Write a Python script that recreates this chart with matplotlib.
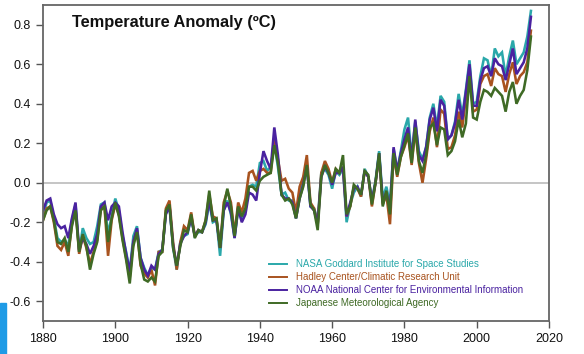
import matplotlib
matplotlib.use("Agg")
import matplotlib.pyplot as plt
from matplotlib.patches import Rectangle

plt.rcParams['font.family'] = ['Liberation Sans', 'DejaVu Sans']

years = list(range(1880, 2016))

nasa = [-0.17, -0.10, -0.09, -0.18, -0.28, -0.30, -0.29, -0.32, -0.19, -0.11,
        -0.35, -0.23, -0.28, -0.31, -0.30, -0.22, -0.11, -0.10, -0.26, -0.17,
        -0.08, -0.14, -0.27, -0.35, -0.45, -0.27, -0.22, -0.38, -0.43, -0.47,
        -0.43, -0.44, -0.35, -0.34, -0.15, -0.12, -0.33, -0.44, -0.30, -0.27,
        -0.26, -0.17, -0.27, -0.25, -0.25, -0.21, -0.10, -0.20, -0.19, -0.37,
        -0.14, -0.09, -0.16, -0.28, -0.13, -0.19, -0.14, -0.02, -0.01, -0.02,
        0.10, 0.11, 0.06, 0.08, 0.20, 0.08, -0.06, -0.05, -0.09, -0.09,
        -0.18, -0.06, 0.02, 0.09, -0.12, -0.13, -0.19, 0.05, 0.07, 0.04,
        -0.03, 0.06, 0.04, 0.07, -0.20, -0.11, -0.05, -0.02, -0.07, 0.07,
        0.03, -0.09, 0.01, 0.16, -0.08, -0.02, -0.11, 0.17, 0.06, 0.16,
        0.27, 0.33, 0.13, 0.31, 0.16, 0.12, 0.18, 0.33, 0.40, 0.28,
        0.44, 0.41, 0.22, 0.24, 0.31, 0.45, 0.34, 0.47, 0.62, 0.40,
        0.41, 0.54, 0.63, 0.62, 0.54, 0.68, 0.64, 0.66, 0.54, 0.64,
        0.72, 0.60, 0.63, 0.66, 0.74, 0.87]

hadley = [-0.19, -0.13, -0.12, -0.20, -0.32, -0.34, -0.30, -0.37, -0.21, -0.13,
          -0.36, -0.27, -0.33, -0.41, -0.35, -0.29, -0.13, -0.12, -0.37, -0.19,
          -0.11, -0.16, -0.28, -0.38, -0.48, -0.30, -0.24, -0.42, -0.46, -0.48,
          -0.44, -0.52, -0.35, -0.35, -0.13, -0.09, -0.30, -0.44, -0.30, -0.22,
          -0.24, -0.15, -0.27, -0.24, -0.25, -0.19, -0.06, -0.17, -0.18, -0.33,
          -0.10, -0.04, -0.10, -0.26, -0.10, -0.15, -0.08, 0.05, 0.06, 0.01,
          0.06, 0.07, 0.05, 0.05, 0.23, 0.12, 0.01, 0.02, -0.03, -0.05,
          -0.15, -0.02, 0.03, 0.14, -0.10, -0.13, -0.21, 0.05, 0.11, 0.07,
          0.00, 0.07, 0.05, 0.08, -0.17, -0.12, -0.02, -0.03, -0.07, 0.06,
          0.03, -0.12, 0.00, 0.13, -0.11, -0.06, -0.21, 0.14, 0.03, 0.13,
          0.18, 0.24, 0.09, 0.27, 0.10, 0.00, 0.12, 0.26, 0.33, 0.18,
          0.37, 0.35, 0.17, 0.18, 0.24, 0.36, 0.28, 0.43, 0.58, 0.36,
          0.37, 0.50, 0.54, 0.55, 0.49, 0.58, 0.55, 0.54, 0.46, 0.55,
          0.61, 0.50, 0.54, 0.56, 0.61, 0.77]

noaa = [-0.14, -0.09, -0.08, -0.16, -0.21, -0.23, -0.22, -0.28, -0.18, -0.10,
        -0.34, -0.28, -0.31, -0.36, -0.32, -0.26, -0.12, -0.10, -0.19, -0.12,
        -0.10, -0.12, -0.25, -0.36, -0.45, -0.30, -0.23, -0.38, -0.44, -0.47,
        -0.42, -0.44, -0.36, -0.34, -0.16, -0.12, -0.32, -0.42, -0.31, -0.27,
        -0.25, -0.18, -0.27, -0.24, -0.25, -0.20, -0.09, -0.19, -0.19, -0.33,
        -0.14, -0.10, -0.15, -0.28, -0.13, -0.20, -0.16, -0.05, -0.06, -0.09,
        0.05, 0.16, 0.11, 0.07, 0.28, 0.14, -0.06, -0.08, -0.08, -0.10,
        -0.18, -0.08, -0.01, 0.08, -0.12, -0.14, -0.21, 0.03, 0.08, 0.05,
        -0.01, 0.05, 0.05, 0.08, -0.17, -0.10, -0.03, -0.02, -0.06, 0.06,
        0.03, -0.09, 0.00, 0.15, -0.10, -0.05, -0.13, 0.18, 0.06, 0.15,
        0.22, 0.28, 0.12, 0.32, 0.14, 0.11, 0.18, 0.32, 0.38, 0.26,
        0.42, 0.39, 0.22, 0.24, 0.30, 0.42, 0.32, 0.46, 0.60, 0.39,
        0.39, 0.52, 0.58, 0.59, 0.54, 0.63, 0.60, 0.59, 0.52, 0.60,
        0.68, 0.55, 0.58, 0.61, 0.68, 0.84]

jma = [-0.19, -0.14, -0.12, -0.19, -0.30, -0.31, -0.28, -0.35, -0.22, -0.14,
       -0.35, -0.26, -0.32, -0.44, -0.36, -0.30, -0.14, -0.12, -0.30, -0.18,
       -0.10, -0.17, -0.29, -0.39, -0.51, -0.32, -0.25, -0.41, -0.49, -0.50,
       -0.48, -0.50, -0.37, -0.35, -0.14, -0.11, -0.33, -0.42, -0.32, -0.24,
       -0.25, -0.16, -0.28, -0.24, -0.25, -0.19, -0.04, -0.19, -0.18, -0.33,
       -0.12, -0.03, -0.12, -0.27, -0.12, -0.17, -0.13, -0.02, -0.02, -0.04,
       0.01, 0.03, 0.04, 0.05, 0.19, 0.10, -0.06, -0.09, -0.08, -0.11,
       -0.18, -0.08, -0.02, 0.09, -0.11, -0.14, -0.24, 0.03, 0.09, 0.05,
       0.00, 0.07, 0.05, 0.14, -0.16, -0.12, -0.01, -0.03, -0.06, 0.06,
       0.04, -0.11, 0.00, 0.15, -0.12, -0.04, -0.16, 0.15, 0.04, 0.13,
       0.19, 0.25, 0.10, 0.28, 0.11, 0.05, 0.14, 0.28, 0.30, 0.19,
       0.28, 0.27, 0.14, 0.16, 0.21, 0.32, 0.23, 0.30, 0.54, 0.33,
       0.32, 0.41, 0.47, 0.46, 0.44, 0.48, 0.46, 0.44, 0.36, 0.46,
       0.51, 0.40, 0.44, 0.47, 0.57, 0.74]

labels = ["NASA Goddard Institute for Space Studies",
          "Hadley Center/Climatic Research Unit",
          "NOAA National Center for Environmental Information",
          "Japanese Meteorological Agency"]
colors = ["#2aa8aa", "#a8531f", "#4a22a0", "#3f6a25"]
series = [nasa, hadley, noaa, jma]

xticks = [1880, 1900, 1920, 1940, 1960, 1980, 2000, 2020]
yticks = [-0.6, -0.4, -0.2, 0.0, 0.2, 0.4, 0.6, 0.8]

fig = plt.figure(figsize=(5.84, 3.54), dpi=100)
ax = fig.add_axes([43/584, 1-321/354, (549-43)/584, (321-5)/354])

ax.axhline(0, color="#bbbbbb", lw=1.2, zorder=1)
for vals, c, lab in zip(series, colors, labels):
    ax.plot(years, vals, color=c, lw=1.85, label=lab, zorder=2,
            solid_joinstyle="miter")

ax.set_xlim(1880, 2020)
ax.set_ylim(-0.7, 0.9)
ax.set_xticks(xticks)
ax.set_yticks(yticks)
ax.set_xticklabels([str(t) for t in xticks])
ax.set_yticklabels(["%.1f" % t for t in yticks])
ax.tick_params(direction="out", length=5, width=1, color="#555555",
               labelsize=9, pad=4, labelcolor="#111111")
for s in ax.spines.values():
    s.set_color("#666666")
    s.set_linewidth(1.3)

ax.text(72/584, 1-22/354, "Temperature Anomaly (ºC)", transform=fig.transFigure,
        fontsize=11.8, fontweight="bold", va="center", ha="left", color="#111111")

leg = ax.legend(loc="upper left", bbox_to_anchor=(269/584, 1-259/354),
                bbox_transform=fig.transFigure, frameon=False, fontsize=7,
                handlelength=1.9, handletextpad=0.85, labelspacing=0.32,
                borderpad=0, borderaxespad=0, labelcolor="linecolor")
for line in leg.get_lines():
    line.set_linewidth(1.4)

fig.patches.append(Rectangle((0, 0), 6/584, 51/354, transform=fig.transFigure,
                             color="#1e9be6", zorder=0))

fig.savefig("out.png", dpi=100)
